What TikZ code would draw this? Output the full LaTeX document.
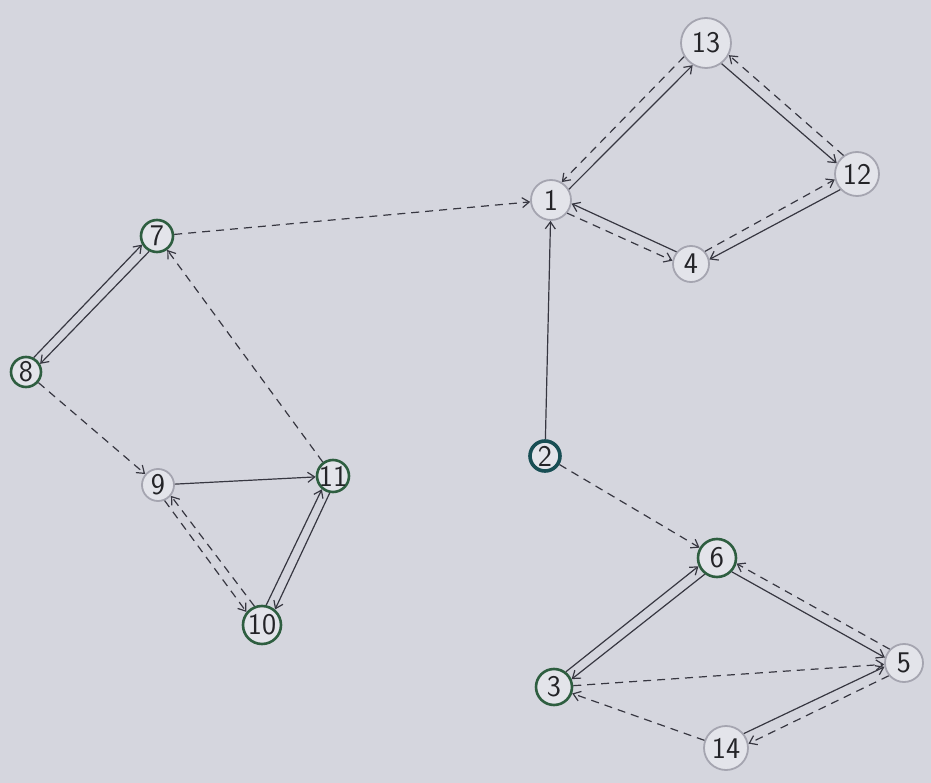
\documentclass[tikz,border=0pt]{standalone}
\usetikzlibrary{arrows.meta,calc}
\definecolor{bg}{RGB}{213,214,222}
\definecolor{nfill}{RGB}{227,228,234}
\definecolor{greyln}{RGB}{165,165,176}
\definecolor{greenln}{RGB}{46,94,64}
\definecolor{tealln}{RGB}{24,78,84}
\definecolor{edgec}{RGB}{55,55,65}
\definecolor{txt}{RGB}{36,36,40}
\tikzset{
  vtx/.style={circle,fill=nfill,inner sep=0pt},
  lbl/.style={inner sep=0pt,font=\sffamily\fontsize{30}{30}\selectfont,text=txt},
  gv/.style={vtx,draw=greyln,line width=1.8pt},
  gn/.style={vtx,draw=greenln,line width=2.6pt},
  tn/.style={vtx,draw=tealln,line width=3.6pt},
  sol/.style={draw=edgec,line width=1.2pt,-{Straight Barb[length=7pt,width=10pt]}},
  dsh/.style={sol,dash pattern=on 8pt off 6pt}
}
\newcommand{\pedge}[4]{\draw[#1] let \p1=($(#3)-(#2)$), \n1={atan2(\y1,\x1)}, \n2={\n1+#4}, \n3={\n1+180-#4} in (#2.\n2) -- (#3.\n3);}
\begin{document}
\begin{tikzpicture}[x=1pt,y=-1pt]
\fill[bg] (0,0) rectangle (931,783);
\useasboundingbox (0,0) rectangle (931,783);
% nodes
\node[gv,minimum size=50pt,label={[lbl]center:13}] (n13) at (706,43) {};
\node[gv,minimum size=44pt,label={[lbl]center:12}] (n12) at (857,174) {};
\node[gv,minimum size=40pt,label={[lbl]center:1}] (n1) at (551,200) {};
\node[gv,minimum size=36pt,label={[lbl]center:4}] (n4) at (691,264) {};
\node[gn,minimum size=32pt,label={[lbl]center:7}] (n7) at (157,236) {};
\node[gn,minimum size=30pt,label={[lbl]center:8}] (n8) at (26,372) {};
\node[gv,minimum size=32pt,label={[lbl]center:9}] (n9) at (158,485) {};
\node[gn,minimum size=32pt,label={[lbl]center:11}] (n11) at (333,476) {};
\node[gn,minimum size=38pt,label={[lbl]center:10}] (n10) at (262,625) {};
\node[tn,minimum size=30pt,label={[lbl]center:2}] (n2) at (545,456) {};
\node[gn,minimum size=38pt,label={[lbl]center:6}] (n6) at (717,558) {};
\node[gv,minimum size=38pt,label={[lbl]center:5}] (n5) at (904,663) {};
\node[gn,minimum size=36pt,label={[lbl]center:3}] (n3) at (554,687) {};
\node[gv,minimum size=44pt,label={[lbl]center:14}] (n14) at (726,748) {};
% single edges
\draw[dsh] (n7) -- (n1);
\draw[sol] (n2) -- (n1);
\draw[dsh] (n8) -- (n9);
\draw[sol] (n9) -- (n11);
\draw[dsh] (n11) -- (n7);
\draw[dsh] (n2) -- (n6);
\draw[dsh] (n3) -- (n5);
\draw[dsh] (n14) -- (n3);
% paired edges
\pedge{sol}{n1}{n13}{-14}
\pedge{dsh}{n13}{n1}{-14}
\pedge{sol}{n13}{n12}{-13}
\pedge{dsh}{n12}{n13}{-13}
\pedge{sol}{n12}{n4}{14}
\pedge{dsh}{n4}{n12}{14}
\pedge{sol}{n4}{n1}{-15}
\pedge{dsh}{n1}{n4}{-15}
\pedge{sol}{n8}{n7}{16}
\pedge{sol}{n7}{n8}{16}
\pedge{sol}{n10}{n11}{14}
\pedge{sol}{n11}{n10}{14}
\pedge{dsh}{n9}{n10}{-14}
\pedge{dsh}{n10}{n9}{-14}
\pedge{sol}{n3}{n6}{14}
\pedge{sol}{n6}{n3}{14}
\pedge{sol}{n6}{n5}{-14}
\pedge{dsh}{n5}{n6}{-14}
\pedge{sol}{n14}{n5}{14}
\pedge{dsh}{n5}{n14}{14}
\end{tikzpicture}
\end{document}
